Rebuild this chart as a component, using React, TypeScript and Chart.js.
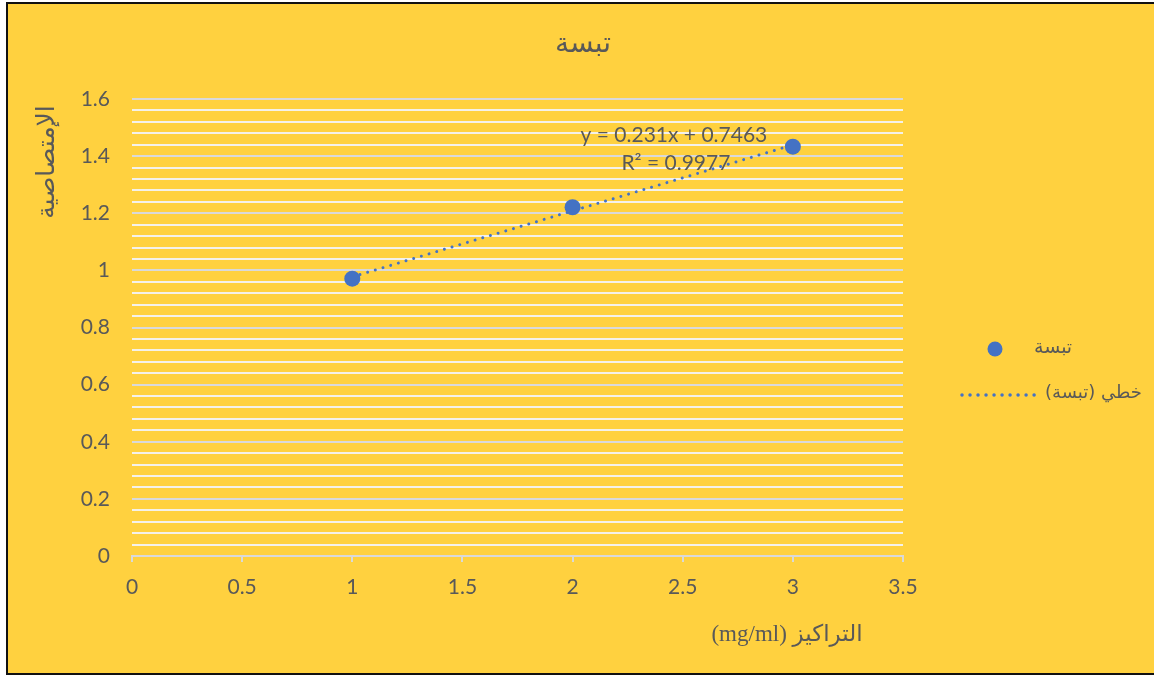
import React, { useEffect, useRef } from "react";
import { Chart, registerables } from "chart.js";

Chart.register(...registerables);

// Calibration data: concentration (mg/ml) vs absorbance
const CONCENTRATIONS = [1, 2, 3];
const ABSORBANCE = [0.971, 1.221, 1.433];

// Linear fit reported on the chart
const TREND_SLOPE = 0.231;
const TREND_INTERCEPT = 0.7463;
const TREND_R2 = 0.9977;
const TREND_X_RANGE = [1, 3];

// Axis ticks
const X_TICKS = [0, 0.5, 1, 1.5, 2, 2.5, 3, 3.5];
const Y_TICKS = [0, 0.2, 0.4, 0.6, 0.8, 1, 1.2, 1.4, 1.6];
const Y_MINOR_DIVISIONS = 5;

// Text
const TITLE = "تبسة";
const SERIES_NAME = "تبسة";
const TREND_NAME = "خطي (تبسة)";
const X_TITLE = "التراكيز (mg/ml)";
const Y_TITLE = "الإمتصاصية";

const BG = "#FFD13F";
const TEXT = "#595959";
const BLUE = "#4472C4";
const GRID_MAJOR = "#D9D9D9";
const GRID_MINOR = "#F4F1EA";
const NUM_FONT = "Lato, 'Open Sans', sans-serif";
const AR_FONT = "'DejaVu Sans', sans-serif";

const Y_MAJOR_STEP = Y_TICKS[1] - Y_TICKS[0];
const Y_MINOR_STEP = Y_MAJOR_STEP / Y_MINOR_DIVISIONS;
const isMajorY = (v: number) => Math.abs(v / Y_MAJOR_STEP - Math.round(v / Y_MAJOR_STEP)) < 1e-6;
const fmt = (v: number) => String(Number(v.toFixed(2)));

const overlayPlugin = {
  id: "overlay",
  afterDraw(chart: any) {
    const { ctx, chartArea: a } = chart;
    ctx.save();
    ctx.fillStyle = TEXT;
    ctx.textBaseline = "middle";

    // chart title
    ctx.direction = "rtl";
    ctx.textAlign = "center";
    ctx.font = `28px ${AR_FONT}`;
    ctx.fillText(TITLE, chart.width / 2, 41);

    // y-axis title, rotated, near the top of the axis
    ctx.save();
    ctx.translate(a.left - 85, a.top + 63);
    ctx.rotate(-Math.PI / 2);
    ctx.font = `25px ${AR_FONT}`;
    ctx.fillText(Y_TITLE, 0, 0);
    ctx.restore();

    // x-axis title
    ctx.font = `23px 'Liberation Serif', ${AR_FONT}`;
    ctx.fillText(X_TITLE, a.left + 655, a.bottom + 79);

    // trendline equation
    ctx.direction = "ltr";
    ctx.font = `21px ${NUM_FONT}`;
    const xs = chart.scales.x;
    const cx = xs.getPixelForValue(2.46);
    ctx.fillText(`y = ${TREND_SLOPE}x + ${TREND_INTERCEPT}`, cx, a.top + 36);
    ctx.fillText(`R² = ${TREND_R2}`, cx + 2, a.top + 64);

    // legend
    const lx = a.right;
    ctx.fillStyle = BLUE;
    ctx.beginPath();
    ctx.arc(lx + 92, a.top + 250, 7.5, 0, Math.PI * 2);
    ctx.fill();

    ctx.strokeStyle = BLUE;
    ctx.lineWidth = 3.5;
    ctx.lineCap = "round";
    ctx.setLineDash([0.01, 8]);
    ctx.beginPath();
    ctx.moveTo(lx + 59, a.top + 296);
    ctx.lineTo(lx + 137, a.top + 296);
    ctx.stroke();
    ctx.setLineDash([]);

    ctx.fillStyle = TEXT;
    ctx.direction = "rtl";
    ctx.textAlign = "left";
    ctx.font = `19px ${AR_FONT}`;
    ctx.fillText(SERIES_NAME, lx + 131, a.top + 249);
    ctx.font = `18px ${AR_FONT}`;
    ctx.fillText(TREND_NAME, lx + 142, a.top + 294);

    ctx.restore();
  },
};

export default function App() {
  const canvasRef = useRef<HTMLCanvasElement>(null);

  useEffect(() => {
    const canvas = canvasRef.current;
    if (!canvas) return;

    const points = CONCENTRATIONS.map((x, i) => ({ x, y: ABSORBANCE[i] }));
    const trend = TREND_X_RANGE.map((x) => ({ x, y: TREND_SLOPE * x + TREND_INTERCEPT }));

    const chart = new Chart(canvas, {
      type: "scatter",
      data: {
        datasets: [
          {
            label: SERIES_NAME,
            data: points,
            backgroundColor: BLUE,
            borderColor: BLUE,
            pointRadius: 8,
            pointHoverRadius: 8,
            borderWidth: 0,
          },
          {
            type: "line",
            label: TREND_NAME,
            data: trend,
            borderColor: BLUE,
            borderWidth: 3,
            borderDash: [0.01, 8],
            borderCapStyle: "round",
            pointRadius: 0,
            fill: false,
            showLine: true,
          } as any,
        ],
      },
      options: {
        responsive: false,
        animation: false,
        devicePixelRatio: 1,
        layout: { padding: { left: 0, top: 95, right: 255, bottom: 0 } },
        plugins: {
          legend: { display: false },
          title: { display: false },
          tooltip: { enabled: false },
        },
        scales: {
          x: {
            type: "linear",
            min: X_TICKS[0],
            max: X_TICKS[X_TICKS.length - 1],
            afterBuildTicks: (scale: any) => {
              scale.ticks = X_TICKS.map((value) => ({ value }));
            },
            afterFit: (scale: any) => {
              scale.height = 117;
            },
            ticks: {
              color: TEXT,
              font: { family: NUM_FONT, size: 21 },
              padding: 13,
              maxRotation: 0,
              autoSkip: false,
              callback: (v: any) => fmt(Number(v)),
            },
            grid: {
              display: true,
              drawOnChartArea: false,
              drawTicks: true,
              tickLength: 6,
              color: GRID_MAJOR,
              lineWidth: 2,
            },
            border: { display: true, color: GRID_MAJOR, width: 2 },
          },
          y: {
            type: "linear",
            min: Y_TICKS[0],
            max: Y_TICKS[Y_TICKS.length - 1],
            afterBuildTicks: (scale: any) => {
              const ticks: { value: number }[] = [];
              const n = (Y_TICKS.length - 1) * Y_MINOR_DIVISIONS;
              for (let i = 0; i <= n; i++) {
                ticks.push({ value: Number((Y_TICKS[0] + i * Y_MINOR_STEP).toFixed(4)) });
              }
              scale.ticks = ticks;
            },
            afterFit: (scale: any) => {
              scale.width = 124;
            },
            ticks: {
              color: TEXT,
              font: { family: NUM_FONT, size: 21 },
              padding: 22,
              autoSkip: false,
              callback: (v: any) => (isMajorY(Number(v)) ? fmt(Number(v)) : ""),
            },
            grid: {
              drawTicks: false,
              lineWidth: 2,
              color: (ctx: any) => (ctx.tick && isMajorY(ctx.tick.value) ? GRID_MAJOR : GRID_MINOR),
            },
            border: { display: false },
          },
        },
      },
      plugins: [overlayPlugin],
    });

    return () => chart.destroy();
  }, []);

  return (
    <div
      style={{
        position: "fixed",
        left: 6,
        top: 2,
        width: 1150,
        height: 669,
        border: "2px solid #111",
        background: BG,
      }}
    >
      <canvas ref={canvasRef} width={1150} height={669} style={{ display: "block" }} />
    </div>
  );
}
